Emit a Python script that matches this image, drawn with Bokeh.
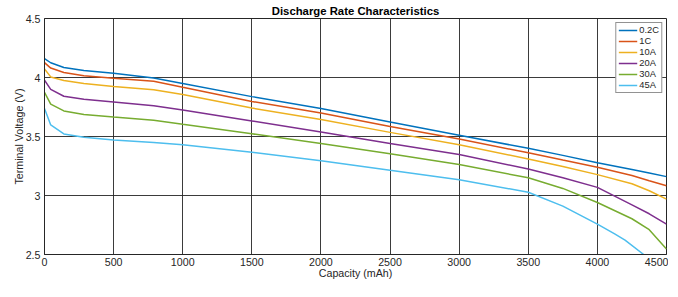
from bokeh.plotting import figure
from bokeh.models import Range1d, Legend, LegendItem, FixedTicker, Title, LinearAxis
from bokeh.embed import file_html
from bokeh.resources import INLINE

title = "Discharge Rate Characteristics"
x_label = "Capacity (mAh)"
y_label = "Terminal Voltage (V)"
series_names = ["0.2C", "1C", "10A", "20A", "30A", "45A"]
colors = ["#0072BD", "#D95319", "#EDB120", "#7E2F8E", "#77AC30", "#4DBEEE"]

cap_main = [0, 45, 140, 285, 500, 790, 1000, 1500, 2000, 2500, 3000, 3500, 3750, 4000, 4250, 4375, 4500]
v_02c = [4.16, 4.125, 4.085, 4.06, 4.037, 3.996, 3.95, 3.838, 3.738, 3.622, 3.51, 3.40, 3.34, 3.278, 3.22, 3.19, 3.16]
v_1c = [4.126, 4.08, 4.042, 4.015, 3.993, 3.969, 3.917, 3.797, 3.70, 3.584, 3.478, 3.362, 3.30, 3.24, 3.17, 3.125, 3.083]
v_10a = [4.072, 4.005, 3.974, 3.95, 3.923, 3.896, 3.855, 3.741, 3.644, 3.535, 3.43, 3.31, 3.245, 3.177, 3.10, 3.04, 2.969]
v_20a = [3.977, 3.90, 3.841, 3.815, 3.793, 3.76, 3.725, 3.632, 3.538, 3.44, 3.348, 3.224, 3.15, 3.069, 2.92, 2.845, 2.757]
v_30a = [3.874, 3.774, 3.717, 3.687, 3.665, 3.638, 3.603, 3.523, 3.44, 3.354, 3.262, 3.15, 3.06, 2.941, 2.803, 2.71, 2.546]
cap_45a = [0, 45, 140, 285, 500, 790, 1000, 1500, 2000, 2500, 3000, 3500, 3750, 4000, 4125, 4200, 4335]
v_45a = [3.738, 3.598, 3.522, 3.494, 3.47, 3.449, 3.43, 3.366, 3.294, 3.213, 3.134, 3.028, 2.91, 2.757, 2.675, 2.622, 2.5]

x_ticks = [0, 500, 1000, 1500, 2000, 2500, 3000, 3500, 4000, 4500]
y_ticks = [2.5, 3, 3.5, 4, 4.5]

FONT = "Liberation Sans"

p = figure(width=668, height=281, output_backend="svg", toolbar_location=None,
           x_range=Range1d(0, 4500), y_range=Range1d(2.5, 4.5),
           min_border_left=0, min_border_right=2, min_border_bottom=0, min_border_top=0)

p.title = Title(text=title, align="center", text_font=FONT, text_font_size="8.5pt",
                text_font_style="bold", text_color="#000000", offset=0, standoff=4)

p.background_fill_color = "white"
p.border_fill_color = "white"
p.outline_line_color = "#262626"
p.outline_line_width = 1

for ax in (p.xaxis[0], p.yaxis[0]):
    ax.axis_line_color = "#262626"
    ax.major_tick_line_color = None
    ax.minor_tick_line_color = None
    ax.major_tick_out = 0
    ax.major_tick_in = 0
    ax.minor_tick_out = 0
    ax.minor_tick_in = 0
    ax.major_label_text_font = FONT
    ax.major_label_text_font_size = "8pt"
    ax.major_label_text_color = "#262626"
    ax.axis_label_text_font = FONT
    ax.axis_label_text_font_size = "8pt"
    ax.axis_label_text_font_style = "normal"
    ax.axis_label_text_color = "#262626"

p.xaxis.ticker = FixedTicker(ticks=x_ticks)
p.yaxis.ticker = FixedTicker(ticks=y_ticks)
p.yaxis.major_label_overrides = {2.5: "2.5", 3: "3", 3.5: "3.5", 4: "4", 4.5: "4.5"}
p.xaxis.axis_label = x_label
p.yaxis.axis_label = y_label
p.xaxis.major_label_standoff = 3
p.yaxis.major_label_standoff = 4
p.xaxis.axis_label_standoff = -2
p.yaxis.axis_label_standoff = -2

# invisible spacer axis on the far left to push the frame right
spacer = LinearAxis(ticker=FixedTicker(ticks=[]), axis_line_color=None,
                    major_tick_out=0, major_tick_in=0, minor_tick_out=0, minor_tick_in=0,
                    major_label_standoff=0, axis_label=" ", axis_label_standoff=0,
                    axis_label_text_font_size="4pt", axis_label_text_alpha=0)
p.add_layout(spacer, "left")

p.xgrid.grid_line_color = "#262626"
p.ygrid.grid_line_color = "#262626"
p.xgrid.grid_line_alpha = 0.9
p.ygrid.grid_line_alpha = 0.9
p.xgrid.grid_line_width = 1
p.ygrid.grid_line_width = 1

ys = [v_02c, v_1c, v_10a, v_20a, v_30a]
items = []
for name, c, y in zip(series_names[:5], colors[:5], ys):
    r = p.line(cap_main, y, line_color=c, line_width=1.5)
    items.append(LegendItem(label=name, renderers=[r]))
r = p.line(cap_45a, v_45a, line_color=colors[5], line_width=1.5)
items.append(LegendItem(label=series_names[5], renderers=[r]))

legend = Legend(items=items, location="top_right", label_text_font=FONT,
                label_text_font_size="7pt", label_text_color="#262626",
                glyph_width=19, glyph_height=10, label_height=10, label_width=10,
                spacing=1, padding=2, margin=4, label_standoff=2,
                border_line_color="#262626", border_line_width=1,
                background_fill_color="white", background_fill_alpha=1)
p.add_layout(legend)

open("out.html", "w").write(file_html(p, INLINE))
